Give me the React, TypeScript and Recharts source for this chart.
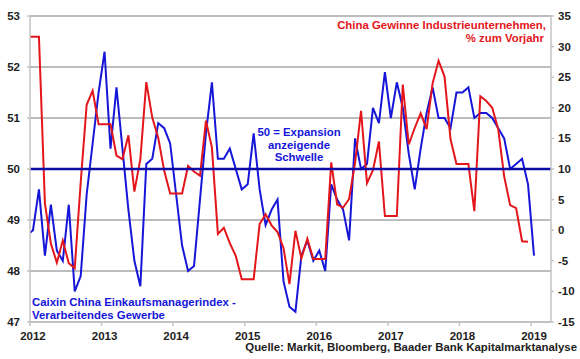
import React from 'react';
import { LineChart, Line, XAxis, YAxis, CartesianGrid, ReferenceLine } from 'recharts';

// Monthly series, first entry = Dec 2011 (month index -1), Jan 2012 = index 0
const pmiValues = [
  48.7,
  48.8, 49.6, 48.3, 49.3, 48.4, 48.2, 49.3, 47.6, 47.9, 49.5, 50.5, 51.5,
  52.3, 50.4, 51.6, 50.4, 49.2, 48.2, 47.7, 50.1, 50.2, 50.9, 50.8, 50.5,
  49.5, 48.5, 48.0, 48.1, 49.4, 50.7, 51.7, 50.2, 50.2, 50.4, 50.0, 49.6,
  49.7, 50.7, 49.6, 48.9, 49.2, 49.4, 47.8, 47.3, 47.2, 48.3, 48.6, 48.2,
  48.4, 48.0, 49.7, 49.4, 49.2, 48.6, 50.6, 50.0, 50.1, 51.2, 50.9, 51.9,
  51.0, 51.7, 51.2, 50.3, 49.6, 50.4, 51.1, 51.6, 51.0, 51.0, 50.8, 51.5,
  51.5, 51.6, 51.0, 51.1, 51.1, 51.0, 50.8, 50.6, 50.0, 50.1, 50.2, 49.7,
  48.3,
];

const profitValues = [
  31.6,
  31.6, 31.6, 4.4, -2.2, -5.3, -1.7, -5.4, -6.2, 7.8, 20.5, 22.8, 17.3,
  17.3, 17.3, 12.2, 11.6, 15.5, 6.3, 11.6, 24.2, 18.4, 15.1, 9.7, 6.0,
  6.0, 6.0, 10.5, 9.6, 8.9, 17.9, 13.5, -0.6, 0.4, -2.1, -4.2, -8.0,
  -8.0, -8.0, 1.0, 2.6, 0.8, -0.3, -2.9, -8.8, -0.1, -4.6, -1.4, -4.7,
  -4.7, -4.7, 11.1, 4.2, 3.7, 5.1, 11.0, 19.5, 7.7, 9.8, 14.5, 2.3,
  2.3, 2.3, 23.8, 14.0, 16.7, 19.1, 16.5, 24.0, 27.7, 25.1, 14.9, 10.8,
  10.8, 10.8, 3.1, 21.9, 21.1, 20.0, 16.5, 8.8, 4.1, 3.6, -1.8, -1.9,
];

const firstMonthIndex = -1;
const yearTicks = [0, 12, 24, 36, 48, 60, 72, 84];
const yearLabels = ['2012', '2013', '2014', '2015', '2016', '2017', '2018', '2019'];
const pmiTicks = [47, 48, 49, 50, 51, 52, 53];
const profitTicks = [-15, -10, -5, 0, 5, 10, 15, 20, 25, 30, 35];

const data = pmiValues.map((v, i) => ({
  m: i + firstMonthIndex,
  pmi: v,
  profit: i < profitValues.length ? profitValues[i] : null,
}));

const FONT = '"Liberation Sans", Arial, sans-serif';
const RED = '#e3161b';
const BLUE = '#1616d8';
const AXIS_GREY = '#c4c4c4';
const TEXT = '#1e1e1e';

const tickStyle = { fill: TEXT, fontSize: 11.5, fontWeight: 'bold', fontFamily: FONT };

function YearTick(props: any) {
  const { x, y, payload } = props;
  const idx = yearTicks.indexOf(payload.value);
  return (
    <g>
      <line x1={x - 3} x2={x - 3} y1={y} y2={y + 4} stroke={AXIS_GREY} strokeWidth={1.5} />
      <text x={x} y={y + 18} textAnchor="middle" style={tickStyle as any} fill={TEXT}>
        {yearLabels[idx]}
      </text>
    </g>
  );
}

export default function App() {
  const textBase: any = { fontFamily: FONT, fontWeight: 'bold', fontSize: 11.4 };
  return (
    <div style={{ position: 'absolute', left: 0, top: 0, width: 580, height: 359, background: '#fff' }}>
      <LineChart
        width={580}
        height={359}
        data={data}
        margin={{ top: 16, right: 0, bottom: 0, left: 0 }}
      >
        <CartesianGrid yAxisId="pmi" vertical={false} stroke="#7a7a7a" strokeWidth={1} />
        <XAxis
          dataKey="m"
          type="number"
          domain={[-0.5, 86.85]}
          allowDataOverflow
          ticks={yearTicks}
          interval={0}
          height={37}
          tickLine={false}
          tickSize={0}
          tickMargin={0}
          axisLine={{ stroke: AXIS_GREY, strokeWidth: 1.5 }}
          tick={<YearTick />}
        />
        <YAxis
          yAxisId="pmi"
          orientation="left"
          domain={[47, 53]}
          ticks={pmiTicks}
          interval={0}
          width={30}
          tickSize={3}
          tickMargin={7}
          axisLine={{ stroke: AXIS_GREY, strokeWidth: 1.5 }}
          tickLine={{ stroke: AXIS_GREY, strokeWidth: 1.5 }}
          tick={tickStyle}
        />
        <YAxis
          yAxisId="profit"
          orientation="right"
          domain={[-15, 35]}
          ticks={profitTicks}
          interval={0}
          width={29}
          tickSize={3}
          tickMargin={4}
          axisLine={{ stroke: AXIS_GREY, strokeWidth: 1.5 }}
          tickLine={{ stroke: AXIS_GREY, strokeWidth: 1.5 }}
          tick={tickStyle}
        />
        <Line
          yAxisId="pmi"
          dataKey="pmi"
          stroke={BLUE}
          strokeWidth={2}
          dot={false}
          isAnimationActive={false}
          strokeLinejoin="miter"
        />
        <Line
          yAxisId="profit"
          dataKey="profit"
          stroke={RED}
          strokeWidth={2}
          dot={false}
          isAnimationActive={false}
          connectNulls={false}
          strokeLinejoin="miter"
        />
        <ReferenceLine yAxisId="pmi" y={50} stroke="#0b0ba6" strokeWidth={2.5} />
      </LineChart>
      <svg
        width={580}
        height={359}
        style={{ position: 'absolute', left: 0, top: 0, pointerEvents: 'none' }}
      >
        <text x={546} y={29} textAnchor="end" fill={RED} style={textBase}>
          China Gewinne Industrieunternehmen,
        </text>
        <text x={544} y={42} textAnchor="end" fill={RED} style={textBase}>
          % zum Vorjahr
        </text>
        <text x={299} y={136} textAnchor="middle" fill={BLUE} style={textBase}>
          50 = Expansion
        </text>
        <text x={299} y={149} textAnchor="middle" fill={BLUE} style={textBase}>
          anzeigende
        </text>
        <text x={299} y={161} textAnchor="middle" fill={BLUE} style={textBase}>
          Schwelle
        </text>
        <text x={32} y={306} textAnchor="start" fill={BLUE} style={textBase}>
          Caixin China Einkaufsmanagerindex -
        </text>
        <text x={32} y={319} textAnchor="start" fill={BLUE} style={textBase}>
          Verarbeitendes Gewerbe
        </text>
        <text x={577} y={351} textAnchor="end" fill={TEXT} style={textBase}>
          Quelle: Markit, Bloomberg, Baader Bank Kapitalmarktanalyse
        </text>
      </svg>
    </div>
  );
}
